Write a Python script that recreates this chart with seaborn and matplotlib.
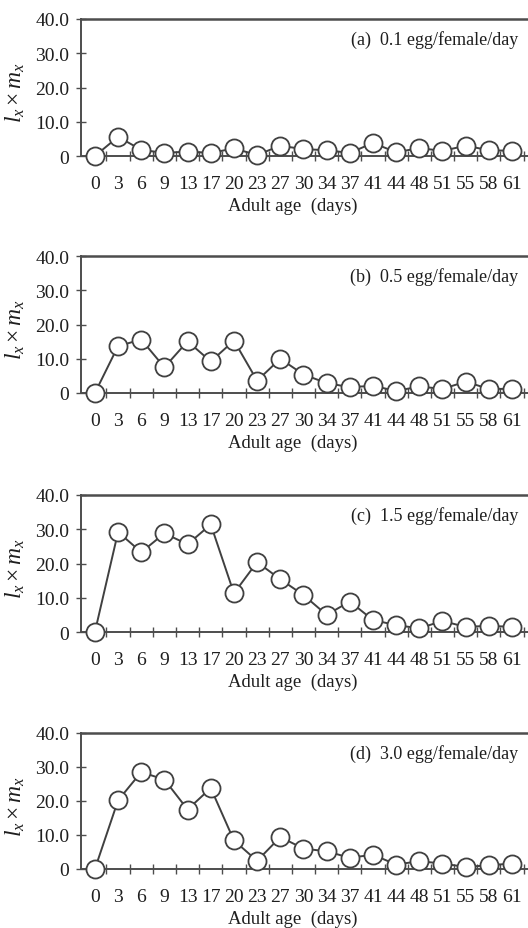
import numpy as np
import pandas as pd
import matplotlib
matplotlib.use("Agg")
import matplotlib.pyplot as plt
import seaborn as sns
from matplotlib.ticker import FixedLocator

sns.set_theme(style="white")
plt.rcParams['font.family'] = ['Liberation Serif', 'DejaVu Serif']
plt.rcParams['mathtext.fontset'] = 'custom'
plt.rcParams['mathtext.it'] = 'Liberation Serif:italic'
plt.rcParams['mathtext.rm'] = 'Liberation Serif'

ages = [0, 3, 6, 9, 13, 17, 20, 23, 27, 30, 34, 37, 41, 44, 48, 51, 55, 58, 61]
panel_titles = ["(a)  0.1 egg/female/day", "(b)  0.5 egg/female/day",
                "(c)  1.5 egg/female/day", "(d)  3.0 egg/female/day"]
lxmx_a = [0.0, 5.6, 1.8, 0.9, 1.3, 0.9, 2.2, 0.3, 3.0, 2.0, 1.7, 0.9, 3.8, 1.1, 2.3, 1.5, 3.0, 1.7, 1.5]
lxmx_b = [0.0, 13.7, 15.6, 7.5, 15.1, 9.2, 15.3, 3.6, 10.0, 5.4, 2.9, 1.7, 2.1, 0.6, 1.9, 1.2, 3.3, 1.2, 1.2]
lxmx_c = [0.0, 29.2, 23.3, 28.8, 25.6, 31.4, 11.3, 20.4, 15.4, 10.8, 5.0, 8.9, 3.5, 2.0, 1.1, 3.2, 1.5, 1.8, 1.5]
lxmx_d = [0.0, 20.2, 28.5, 26.3, 17.5, 23.8, 8.4, 2.4, 9.4, 6.0, 5.2, 3.3, 4.2, 1.3, 2.3, 1.6, 0.6, 1.1, 1.6]
yticks = [0, 10, 20, 30, 40]
ytick_labels = ["0", "10.0", "20.0", "30.0", "40.0"]
series = [lxmx_a, lxmx_b, lxmx_c, lxmx_d]

W, H = 528, 929
fig = plt.figure(figsize=(W / 100, H / 100), dpi=100)
# axes (top px, bottom px)
panels_px = [(20, 157), (257, 394), (496, 633), (734, 870)]
left_px, right_px = 81, 528

line_c = "#404040"
spine_c = "#4d4d4d"
text_c = "#1e1e1e"

for vals, title, (tp, bp) in zip(series, panel_titles, panels_px):
    ax = fig.add_axes([left_px / W, 1 - bp / H, (right_px - left_px) / W, (bp - tp) / H])
    df = pd.DataFrame({"pos": np.arange(len(ages)), "val": vals})
    sns.lineplot(data=df, x="pos", y="val", ax=ax, color=line_c, linewidth=1.4,
                 marker="o", markersize=13, markerfacecolor="white",
                 markeredgecolor=line_c, markeredgewidth=1.3, clip_on=False, zorder=5)
    ax.set_xlim(-0.6, 18.69)
    ax.set_ylim(0, 40)
    ax.set_xticks(np.arange(len(ages)))
    ax.set_xticklabels([str(a) for a in ages])
    ax.xaxis.set_minor_locator(FixedLocator(np.arange(len(ages)) + 0.5))
    ax.tick_params(axis="x", which="major", length=0, pad=14, labelsize=14, colors=text_c)
    ax.tick_params(axis="x", which="minor", length=7, width=1.0, direction="inout",
                   color=spine_c, bottom=True)
    ax.set_yticks(yticks)
    ax.set_yticklabels(ytick_labels)
    ax.tick_params(axis="y", which="major", length=7, width=1.0, direction="inout",
                   color=spine_c, pad=5, labelsize=14, left=True, labelcolor=text_c)
    for s in ["left", "bottom"]:
        ax.spines[s].set_color(spine_c)
        ax.spines[s].set_linewidth(1.4)
    ax.spines["top"].set_color(spine_c)
    ax.spines["top"].set_linewidth(1.8)
    ax.spines["right"].set_visible(False)
    ax.set_xlabel("Adult age  (days)", fontsize=13.5, color=text_c)
    ax.xaxis.set_label_coords(0.474, -0.30)
    ax.set_ylabel(r"$l_x \times m_x$", fontsize=17, color=text_c)
    ax.yaxis.set_label_coords(-0.12, 0.47)
    ax.text(0.978, 0.855, title, transform=ax.transAxes, ha="right", va="center",
            fontsize=13, color=text_c)

fig.savefig("out.png", dpi=100, facecolor="white")
